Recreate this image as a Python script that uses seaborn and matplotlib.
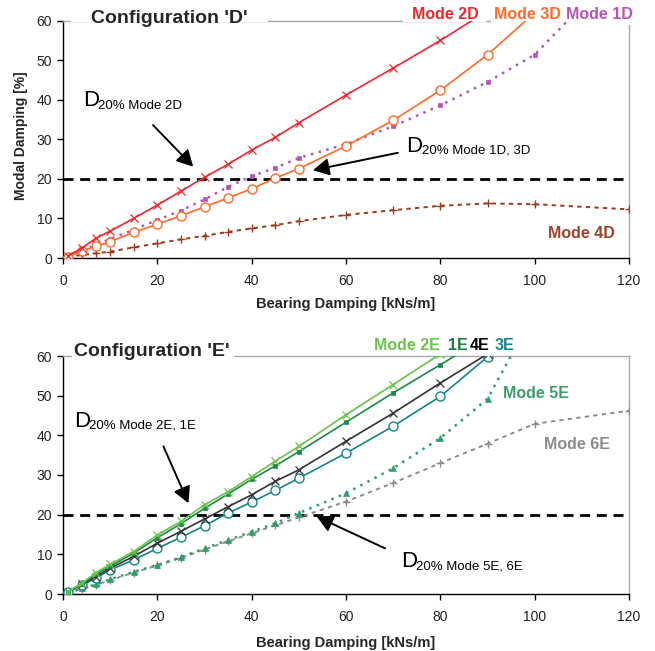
import matplotlib
matplotlib.use("Agg")
import matplotlib.pyplot as plt
from matplotlib.patches import Rectangle
import seaborn as sns

# ---------------- data ----------------
bearing_damping = [1, 4, 7, 10, 15, 20, 25, 30, 35, 40, 45, 50, 60, 70, 80, 90, 100, 120]
x_ticks = [0, 20, 40, 60, 80, 100, 120]
y_ticks = [0, 10, 20, 30, 40, 50, 60]

# Configuration 'D'
mode_2d = [0.5, 2.5, 5.0, 6.8, 10.0, 13.4, 16.9, 20.4, 23.7, 27.3, 30.5, 34.2, 41.2, 48.0, 55.0, 62.5]
mode_3d = [0.3, 1.8, 3.0, 4.1, 6.5, 8.5, 10.7, 12.9, 15.2, 17.5, 20.2, 22.6, 28.3, 34.8, 42.4, 51.4, 62.0]
mode_1d = [0.4, 1.9, 3.3, 4.8, 7.2, 9.6, 12.0, 14.8, 18.0, 20.7, 22.8, 25.3, 28.8, 33.3, 38.6, 44.5, 51.4, 76.0]
mode_4d = [0.3, 0.8, 1.2, 1.6, 2.7, 3.7, 4.7, 5.6, 6.6, 7.5, 8.3, 9.3, 10.9, 12.1, 13.2, 13.8, 13.6, 12.3]

# Configuration 'E'
mode_2e = [0.6, 2.7, 5.4, 7.5, 10.7, 14.9, 18.3, 22.5, 25.8, 29.6, 33.5, 37.2, 45.2, 52.8, 60.5]
mode_1e = [0.5, 2.5, 5.0, 7.0, 10.3, 14.2, 17.7, 21.6, 25.2, 28.9, 32.3, 35.9, 43.3, 50.7, 57.8, 65.0]
mode_4e = [0.6, 2.4, 4.4, 6.5, 9.5, 12.8, 15.8, 18.9, 22.0, 25.0, 28.4, 31.3, 38.5, 45.6, 53.2, 60.5]
mode_3e = [0.5, 2.2, 4.0, 6.1, 8.6, 11.5, 14.3, 17.2, 20.4, 23.2, 26.1, 29.2, 35.5, 42.3, 49.8, 59.8]
mode_5e = [0.3, 1.4, 2.4, 3.7, 5.6, 7.3, 9.3, 11.5, 13.6, 15.7, 17.8, 20.4, 25.4, 31.7, 39.3, 49.2, 71.0]
mode_6e = [0.3, 1.3, 2.3, 3.5, 5.4, 7.2, 9.1, 11.2, 13.3, 15.3, 17.3, 19.3, 23.3, 28.0, 33.0, 37.9, 42.9, 46.2]

threshold = 20

# ---------------- style ----------------
sns.set_style("ticks")
plt.rcParams["font.family"] = ["Liberation Sans", "DejaVu Sans"]

C_2D, C_3D, C_1D, C_4D = "#f0262e", "#ff6a28", "#b455b4", "#9c3a1e"
C_2E, C_1E, C_4E, C_3E = "#6cc24a", "#1b8a48", "#333333", "#138689"
C_5E, C_6E = "#2e9e6a", "#8c8c8c"
SPINE_GRAY = "#a8a8a8"

fig = plt.figure(figsize=(6.55, 6.51), dpi=100)
W, H = 655.0, 651.0
ax1 = fig.add_axes([63 / W, 1 - 258 / H, 566 / W, 237.3 / H])
ax2 = fig.add_axes([63 / W, 1 - 594 / H, 566 / W, 238 / H])


def series(ax, ys, color, marker, ls, ms, mfc=None, lw=1.1, mew=1.0):
    sns.lineplot(x=bearing_damping[:len(ys)], y=ys, ax=ax, color=color,
                 marker=marker, linestyle=ls, markersize=ms,
                 markerfacecolor=mfc if mfc is not None else color,
                 markeredgecolor=color, markeredgewidth=mew, linewidth=lw,
                 legend=False, zorder=3)


def style_axes(ax):
    ax.set_xlim(0, 120)
    ax.set_ylim(0, 60)
    ax.set_xticks(x_ticks)
    ax.set_yticks(y_ticks)
    ax.set_xlabel("")
    ax.set_ylabel("")
    ax.tick_params(axis="both", direction="out", length=4, width=1,
                   color="black", labelsize=10, labelcolor="#222222")
    ax.tick_params(axis="x", pad=7.5)
    ax.tick_params(axis="y", pad=4)
    for s in ("left", "bottom"):
        ax.spines[s].set_color("black")
        ax.spines[s].set_linewidth(1.0)
    for s in ("top", "right"):
        ax.spines[s].set_visible(True)
        ax.spines[s].set_color(SPINE_GRAY)
        ax.spines[s].set_linewidth(1.0)
    ax.axhline(threshold, color="black", lw=2.0, linestyle=(0, (3.6, 2.4)), zorder=2)


def cover(ax, x0, x1, y0, y1=63):
    ax.add_patch(Rectangle((x0, y0), x1 - x0, y1 - y0, transform=ax.transData,
                           facecolor="white", edgecolor="none", clip_on=False,
                           zorder=2.7))


def d20(ax, x, y, sub, sx, sy):
    ax.text(x, y, "D", fontsize=16, ha="left", va="baseline", color="black", zorder=6)
    ax.text(sx, sy, sub, fontsize=9.5, ha="left", va="baseline", color="black", zorder=6)


def arrow(ax, tail, tip):
    ax.annotate("", xy=tip, xytext=tail,
                arrowprops=dict(arrowstyle="-|>,head_length=0.65,head_width=0.35",
                                mutation_scale=15, lw=1.4, color="black",
                                shrinkA=0, shrinkB=0), zorder=6)


# ---------------- Configuration 'D' ----------------
series(ax1, mode_4d, C_4D, "+", (0, (2.2, 2.2)), 6, lw=1.4, mew=1.0)
series(ax1, mode_1d, C_1D, "s", (0, (1.0, 2.2)), 3.2, lw=1.8, mew=0.5)
series(ax1, mode_3d, C_3D, "o", "-", 6.5, mfc="white", lw=1.2, mew=1.0)
series(ax1, mode_2d, C_2D, "x", "-", 6, lw=1.2, mew=0.9)
style_axes(ax1)

cover(ax1, 1.7, 43.5, 59.6)
cover(ax1, 72.0, 89.7, 59.6)
cover(ax1, 90.8, 121.5, 58.8)
ax1.text(5.9, 59.3, "Configuration 'D'", fontsize=14, fontweight="bold",
         ha="left", va="baseline", clip_on=False, zorder=6)
ax1.text(73.9, 60.4, "Mode 2D", fontsize=11.5, fontweight="bold", color=C_2D,
         ha="left", va="baseline", clip_on=False, zorder=6)
ax1.text(91.3, 60.4, "Mode 3D", fontsize=11.5, fontweight="bold", color=C_3D,
         ha="left", va="baseline", clip_on=False, zorder=6)
ax1.text(106.6, 60.4, "Mode 1D", fontsize=11.5, fontweight="bold", color=C_1D,
         ha="left", va="baseline", clip_on=False, zorder=6)
ax1.text(102.9, 5.0, "Mode 4D", fontsize=11.5, fontweight="bold", color="#a0402a",
         ha="left", va="baseline", zorder=6)

d20(ax1, 4.2, 38.4, "20% Mode 2D", 7.4, 37.8)
arrow(ax1, (19.1, 33.6), (27.6, 23.1))
d20(ax1, 72.7, 26.8, "20% Mode 1D, 3D", 76.1, 26.3)
arrow(ax1, (71.0, 26.6), (53.0, 22.2))

# ---------------- Configuration 'E' ----------------
series(ax2, mode_6e, C_6E, "+", (0, (2.2, 2.2)), 6, lw=1.4, mew=1.0)
series(ax2, mode_5e, C_5E, "^", (0, (1.0, 2.2)), 4.5, lw=1.8, mew=0.5)
series(ax2, mode_3e, C_3E, "o", "-", 6.5, mfc="white", lw=1.2, mew=1.0)
series(ax2, mode_4e, C_4E, "x", "-", 6, lw=1.2, mew=0.9)
series(ax2, mode_1e, C_1E, "s", "-", 3, lw=1.2, mew=0.5)
series(ax2, mode_2e, C_2E, "x", "-", 5.5, lw=1.2, mew=0.9)
style_axes(ax2)

cover(ax2, 1.9, 36.3, 59.6)
ax2.text(2.3, 59.9, "Configuration 'E'", fontsize=14, fontweight="bold",
         ha="left", va="baseline", clip_on=False, zorder=6)
ax2.text(66.0, 61.6, "Mode 2E", fontsize=11.5, fontweight="bold", color=C_2E,
         ha="left", va="baseline", clip_on=False, zorder=6)
ax2.text(81.6, 61.6, "1E", fontsize=11.5, fontweight="bold", color="#1f7a3f",
         ha="left", va="baseline", clip_on=False, zorder=6)
ax2.text(86.3, 61.6, "4E", fontsize=11.5, fontweight="bold", color="black",
         ha="left", va="baseline", clip_on=False, zorder=6)
ax2.text(91.6, 61.6, "3E", fontsize=11.5, fontweight="bold", color=C_3E,
         ha="left", va="baseline", clip_on=False, zorder=6)
ax2.text(93.2, 49.4, "Mode 5E", fontsize=11.5, fontweight="bold", color="#3a9e6a",
         ha="left", va="baseline", zorder=6)
ax2.text(101.9, 36.6, "Mode 6E", fontsize=11.5, fontweight="bold", color="#8a8a8a",
         ha="left", va="baseline", zorder=6)

d20(ax2, 2.3, 42.2, "20% Mode 2E, 1E", 5.6, 41.6)
arrow(ax2, (21.3, 37.2), (26.6, 22.9))
d20(ax2, 71.6, 6.7, "20% Mode 5E, 6E", 74.8, 6.2)
arrow(ax2, (68.3, 11.5), (53.8, 19.5))

# ---------------- axis titles ----------------
fig.text(21 / W, 1 - 136 / H, "Modal Damping [%]", rotation=90, fontsize=10,
         fontweight="bold", ha="center", va="center")
fig.text(346 / W, 1 - 304 / H, "Bearing Damping [kNs/m]", fontsize=10.5,
         fontweight="bold", ha="center", va="center")
fig.text(346 / W, 1 - 642.5 / H, "Bearing Damping [kNs/m]", fontsize=10.5,
         fontweight="bold", ha="center", va="center")

fig.savefig("out.png", dpi=100, facecolor="white")
